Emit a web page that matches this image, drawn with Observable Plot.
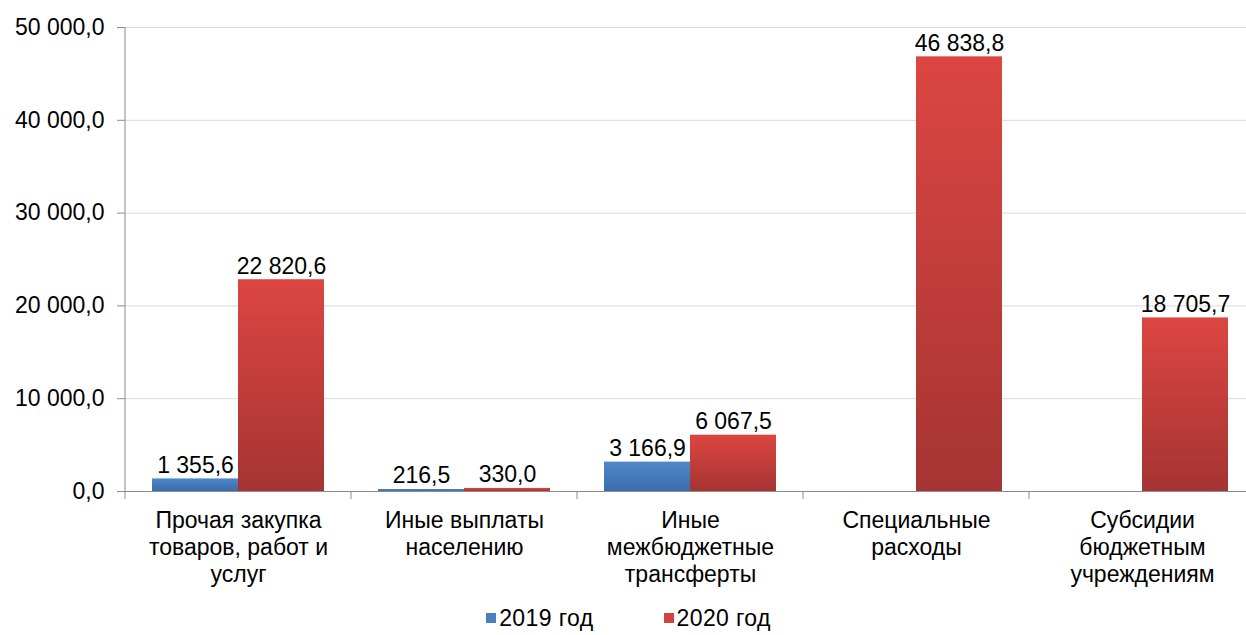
<!DOCTYPE html>
<html><head><meta charset="utf-8">
<script src="https://cdn.jsdelivr.net/npm/d3@7"></script>
<script src="https://cdn.jsdelivr.net/npm/@observablehq/plot@0.6"></script>
<style>
html,body{margin:0;padding:0;background:#fff;}
body{font-family:"Liberation Sans",Arial,sans-serif;width:1246px;height:635px;overflow:hidden;}
#chart svg{overflow:hidden;}
#legend{display:flex;justify-content:center;align-items:center;height:33px;font-size:23px;line-height:26px;color:#000;padding-left:11px;padding-top:1px;}
#legend .item{display:flex;align-items:center;margin:0 35px;letter-spacing:0.4px;}
#legend .sw{width:10px;height:10px;margin-right:3px;}
</style></head><body>
<div id="chart"></div>
<div id="legend"></div>
<script>
const categories = [
  "Прочая закупка\nтоваров, работ и\nуслуг",
  "Иные выплаты\nнаселению",
  "Иные\nмежбюджетные\nтрансферты",
  "Специальные\nрасходы",
  "Субсидии\nбюджетным\nучреждениям"
];
const years = ["2019 год", "2020 год"];
const values2019 = [1355.6, 216.5, 3166.9, null, null];
const values2020 = [22820.6, 330.0, 6067.5, 46838.8, 18705.7];
const yTicks = [0, 10000, 20000, 30000, 40000, 50000];
const yearColors = ["#4a7ebf", "#d4423e"];

const data = [];
categories.forEach((c, i) => {
  if (values2019[i] != null) data.push({category: c, year: years[0], value: values2019[i]});
  if (values2020[i] != null) data.push({category: c, year: years[1], value: values2020[i]});
});

const fmt = d3.formatLocale({decimal: ",", thousands: "\u00a0", grouping: [3], currency: ["", ""]}).format(",.1f");

const plot = Plot.plot({
  width: 1246, height: 600,
  marginTop: 27, marginBottom: 109, marginLeft: 125, marginRight: -9,
  style: {fontFamily: "'Liberation Sans', Arial, sans-serif", fontSize: "23px", color: "#000", background: "#fff"},
  fx: {domain: categories, padding: 0, label: null},
  x: {domain: years, paddingInner: 0, paddingOuter: 0.305, axis: null},
  y: {domain: [0, 50000], label: null},
  marks: [
    Plot.gridY(yTicks, {stroke: "#d9d9d9", strokeOpacity: 1}),
    Plot.axisY(yTicks, {tickFormat: fmt, tickSize: 8, tickPadding: 13, stroke: "#8c8c8c", fontSize: 23, label: null}),
    Plot.axisFx({anchor: "bottom", tickSize: 0, tickPadding: 17, fontSize: 23, lineHeight: 1.18, label: null}),
    Plot.barY(data.filter(d => d.year === years[0]), {fx: "category", x: "year", y: "value", fill: "url(#gBlue)"}),
    Plot.barY(data.filter(d => d.year === years[1]), {fx: "category", x: "year", y: "value", fill: "url(#gRed)"}),
    Plot.ruleY([0], {stroke: "#8c8c8c"}),
    Plot.text(data, {fx: "category", x: "year", y: "value", text: d => fmt(d.value), lineAnchor: "bottom", dy: -6, fontSize: 23, fill: "#000"})
  ]
});

const svg = d3.select(plot);
svg.insert("defs", ":first-child").html(`
  <linearGradient id="gBlue" x1="0" y1="0" x2="0" y2="1">
    <stop offset="0" stop-color="#4f87c9"/><stop offset="1" stop-color="#3a6daa"/>
  </linearGradient>
  <linearGradient id="gRed" x1="0" y1="0" x2="0" y2="1">
    <stop offset="0" stop-color="#dc4642"/><stop offset="1" stop-color="#a53432"/>
  </linearGradient>`);

const fx = plot.scale("fx"), y = plot.scale("y");
const y0 = y.apply(0), y1 = y.apply(50000);
const edges = categories.map(c => fx.apply(c));
edges.push(fx.apply(categories[categories.length - 1]) + fx.bandwidth);
const g = svg.append("g").attr("stroke", "#8c8c8c");
g.append("line").attr("x1", edges[0]).attr("x2", edges[0]).attr("y1", y1).attr("y2", y0);
edges.forEach(e => g.append("line").attr("x1", e).attr("x2", e).attr("y1", y0).attr("y2", y0 + 8));

document.getElementById("chart").appendChild(plot);

const legend = d3.select("#legend");
years.forEach((yr, i) => {
  const it = legend.append("div").attr("class", "item");
  it.append("div").attr("class", "sw").style("background", yearColors[i]);
  it.append("span").text(yr);
});
</script>
</body></html>
